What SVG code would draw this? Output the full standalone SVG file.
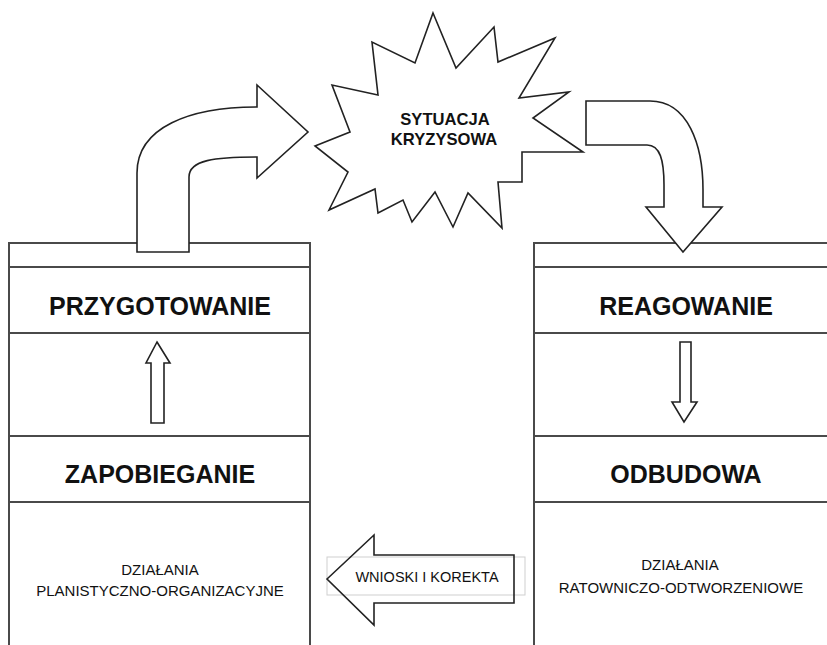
<svg xmlns="http://www.w3.org/2000/svg" width="827" height="645" viewBox="0 0 827 645">
<style>
.ln{stroke:#4a4a4a;stroke-width:2;fill:none}
.sh{stroke:#222;stroke-width:1.6;fill:#fff;stroke-linejoin:miter}
.big{font-family:"Liberation Sans",Arial,sans-serif;font-weight:bold;font-size:25px;fill:#111;text-anchor:middle}
.mid{font-family:"Liberation Sans",Arial,sans-serif;font-weight:bold;font-size:16.6px;fill:#111;text-anchor:middle}
.sm{font-family:"Liberation Sans",Arial,sans-serif;font-size:15px;fill:#111;text-anchor:middle}
</style>
<rect width="827" height="645" fill="#fff"/>
<g id="left-column">
  <path class="ln" d="M9,645 V243 H310 V645 M9,267 H310 M9,333 H310 M9,436 H310 M9,502 H310"/>
  <text class="big" x="160" y="315">PRZYGOTOWANIE</text>
  <text class="big" x="160" y="483">ZAPOBIEGANIE</text>
  <text class="sm" x="160" y="575">DZIAŁANIA</text>
  <text class="sm" x="160" y="596">PLANISTYCZNO-ORGANIZACYJNE</text>
</g>
<g id="right-column">
  <path class="ln" d="M534,645 V243 H835 V645 M534,267 H835 M534,333 H835 M534,436 H835 M534,502 H835"/>
  <text class="big" x="686" y="315">REAGOWANIE</text>
  <text class="big" x="686" y="483">ODBUDOWA</text>
  <text class="sm" x="680" y="570">DZIAŁANIA</text>
  <text class="sm" x="681" y="593">RATOWNICZO-ODTWORZENIOWE</text>
</g>
<g id="crisis">
  <polygon class="sh" points="433,13 456,68 494,27 498,62 555,38 519,98 569,92 533,118 583,152 522,152 522,182 498,182 502,228 468,193 453,227 435,192 412,222 403,200 378,213 375,189 329,210 348,172 315,146 350,132 332,85 378,95 372,42 415,63"/>
  <text class="mid" x="445" y="125">SYTUACJA</text>
  <text class="mid" x="444" y="145">KRYZYSOWA</text>
</g>
<g id="connectors">
  <path class="sh" d="M137,252 V173 C137,127 190,107 257,107 V85 L308,132 L257,178 V157 C215,157 189,160 189,177 V252 Z"/>
  <path class="sh" d="M586,101 H650 C688,101 703,145 703,190 V207 H722 L683,252 L646,207 H664 V185 C664,160 660,145 647,145 H586 Z"/>
  <polygon class="sh" points="157,342 170,363 164,363 164,423 151,423 151,363 146,363"/>
  <polygon class="sh" points="680,342 691,342 691,402 697,402 684,422 672,402 680,402"/>
  <g id="feedback">
    <rect x="327" y="557" width="198" height="38" fill="none" stroke="#cfcfcf" stroke-width="1"/>
    <polygon class="sh" points="327,579 374,535 374,555 514,555 514,603 374,603 374,625" style="fill:none"/>
    <text class="sm" x="427" y="582" style="font-size:14.5px">WNIOSKI I KOREKTA</text>
  </g>
</g>
</svg>
